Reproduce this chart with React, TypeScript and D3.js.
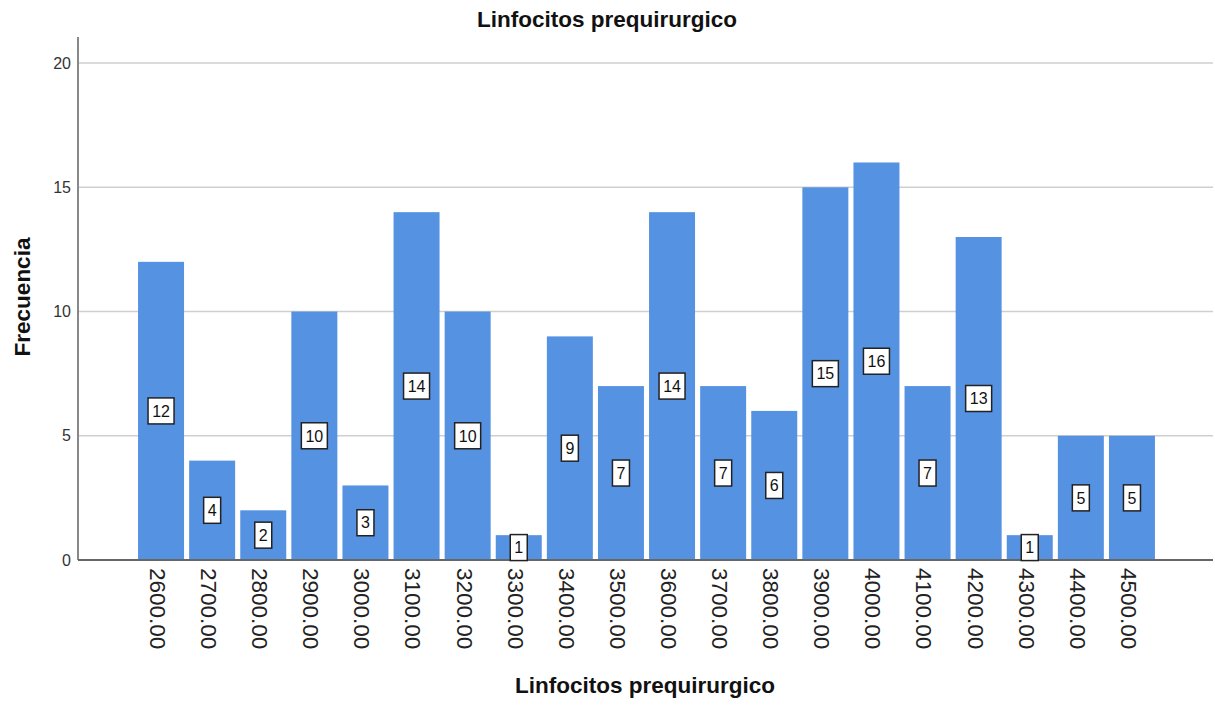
import React from "react";
import * as d3 from "d3";

const categories = ["2600.00","2700.00","2800.00","2900.00","3000.00","3100.00","3200.00","3300.00","3400.00","3500.00","3600.00","3700.00","3800.00","3900.00","4000.00","4100.00","4200.00","4300.00","4400.00","4500.00"];
const counts = [12,4,2,10,3,14,10,1,9,7,14,7,6,15,16,7,13,1,5,5];
const yTicks = [0,5,10,15,20];
const title = "Linfocitos prequirurgico";
const xTitle = "Linfocitos prequirurgico";
const yTitle = "Frecuencia";

const W = 1215, H = 705;
const plotLeft = 78, plotRight = 1213, plotTop = 37, plotBottom = 560;
const font = "'Liberation Sans', Arial, Helvetica, sans-serif";

export default function App() {
  const x = d3.scaleBand<string>().domain(categories).range([135.5, 1157.5]).paddingInner(0.1).paddingOuter(0.05);
  const y = d3.scaleLinear().domain([0, 21.05]).range([plotBottom, plotTop]);
  const bw = x.bandwidth();
  return (
    <svg width={W} height={H} style={{ position: "absolute", left: 0, top: 0, background: "#fff" }} fontFamily={font}>
      <rect x={0} y={0} width={W} height={H} fill="#fff" />
      <text x={607} y={27} textAnchor="middle" fontSize={22.5} fontWeight="bold" fill="#111">{title}</text>
      {yTicks.filter(t => t > 0).map(t => (
        <line key={t} x1={plotLeft} x2={plotRight} y1={y(t)} y2={y(t)} stroke="#cfcfcf" strokeWidth={1.5} />
      ))}
      {yTicks.map(t => (
        <text key={t} x={71} y={y(t)} dy="0.35em" textAnchor="end" fontSize={16} fill="#333">{t}</text>
      ))}
      {categories.map((c, i) => (
        <rect key={c} x={x(c)} y={y(counts[i])} width={bw} height={plotBottom - y(counts[i])} fill="#5592e2" />
      ))}
      <line x1={plotLeft} x2={plotLeft} y1={plotTop} y2={plotBottom} stroke="#888" strokeWidth={2} />
      <line x1={plotLeft} x2={plotRight} y1={plotBottom} y2={plotBottom} stroke="#666" strokeWidth={2} />
      {categories.map((c, i) => {
        const cx = (x(c) as number) + bw / 2;
        const cy = y(counts[i] / 2);
        const label = String(counts[i]);
        const w = label.length * 9 + 8;
        return (
          <g key={c}>
            <rect x={cx - w / 2} y={cy - 13} width={w} height={26} fill="#fff" stroke="#222" strokeWidth={1.5} />
            <text x={cx} y={cy} dy="0.36em" textAnchor="middle" fontSize={16} fill="#111">{label}</text>
          </g>
        );
      })}
      {categories.map(c => {
        const cx = (x(c) as number) + bw / 2 - 3;
        return (
          <text key={c} transform={`translate(${cx},568) rotate(90)`} dy="0.36em" textAnchor="start" fontSize={22.5} fill="#222">{c}</text>
        );
      })}
      <text x={645} y={693} textAnchor="middle" fontSize={22.5} fontWeight="bold" fill="#111">{xTitle}</text>
      <text transform={`translate(30,297) rotate(-90)`} textAnchor="middle" fontSize={22.5} fontWeight="bold" fill="#111">{yTitle}</text>
    </svg>
  );
}
